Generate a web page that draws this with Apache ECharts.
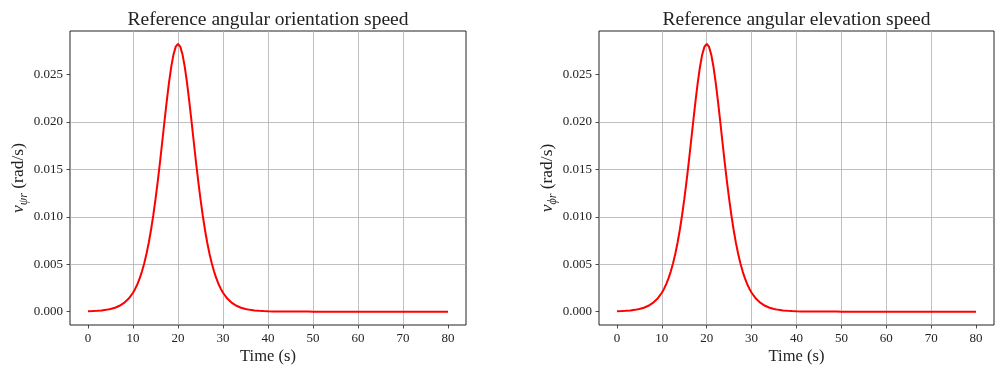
<!DOCTYPE html>
<html>
<head>
<meta charset="utf-8">
<script src="https://cdn.jsdelivr.net/npm/echarts@6/dist/echarts.min.js"></script>
<style>
  html, body { margin: 0; padding: 0; background: #fff; overflow: hidden; }
  #chart { width: 995px; height: 365px; }
</style>
</head>
<body>
<div id="chart"></div>
<script>
// Sample times (s) of the reference speed profiles
const timeSec = [
  0, 1, 2, 3, 4, 5, 6, 7, 8, 9,
  10, 10.5, 11, 11.5, 12, 12.5, 13, 13.5, 14, 14.5,
  15, 15.5, 16, 16.5, 17, 17.5, 18, 18.5, 19, 19.5,
  20, 20.5, 21, 21.5, 22, 22.5, 23, 23.5, 24, 24.5,
  25, 25.5, 26, 26.5, 27, 27.5, 28, 28.5, 29, 29.5,
  30, 31, 32, 33, 34, 35, 36, 37, 38, 39,
  40, 41, 42, 43, 44, 45, 46, 47, 48, 49,
  50, 55, 60, 65, 70, 75, 80
];

// Reference angular orientation speed (rad/s)
const orientSpeed = [
  0.0000379, 0.0000565, 0.0000842, 0.000125, 0.000187, 0.000279, 0.000414, 0.000616, 0.000914, 0.00135,
  0.00199, 0.00242, 0.00292, 0.00353, 0.00425, 0.00510, 0.00610, 0.00727, 0.00861, 0.01014,
  0.01186, 0.01375, 0.01578, 0.01792, 0.02009, 0.02220, 0.02415, 0.02583, 0.02713, 0.02795,
  0.02823, 0.02795, 0.02713, 0.02583, 0.02415, 0.02220, 0.02009, 0.01792, 0.01578, 0.01375,
  0.01186, 0.01014, 0.00861, 0.00727, 0.00610, 0.00510, 0.00425, 0.00353, 0.00292, 0.00242,
  0.00199, 0.00135, 0.000914, 0.000616, 0.000414, 0.000279, 0.000187, 0.000125, 0.0000842, 0.0000565,
  0.0000379, 0.0000254, 0.000017, 0.0000114, 0.0000077, 0.0000051, 0.0000034, 0.0000023, 0.0000015, 0.000001,
  0, 0, 0, 0, 0, 0, 0
];

// Reference angular elevation speed (rad/s)
const elevSpeed = [
  0.0000379, 0.0000565, 0.0000842, 0.000125, 0.000187, 0.000279, 0.000414, 0.000616, 0.000914, 0.00135,
  0.00199, 0.00242, 0.00292, 0.00353, 0.00425, 0.00510, 0.00610, 0.00727, 0.00861, 0.01014,
  0.01186, 0.01375, 0.01578, 0.01792, 0.02009, 0.02220, 0.02415, 0.02583, 0.02713, 0.02795,
  0.02823, 0.02795, 0.02713, 0.02583, 0.02415, 0.02220, 0.02009, 0.01792, 0.01578, 0.01375,
  0.01186, 0.01014, 0.00861, 0.00727, 0.00610, 0.00510, 0.00425, 0.00353, 0.00292, 0.00242,
  0.00199, 0.00135, 0.000914, 0.000616, 0.000414, 0.000279, 0.000187, 0.000125, 0.0000842, 0.0000565,
  0.0000379, 0.0000254, 0.000017, 0.0000114, 0.0000077, 0.0000051, 0.0000034, 0.0000023, 0.0000015, 0.000001,
  0, 0, 0, 0, 0, 0, 0
];

const xTicks = [0, 10, 20, 30, 40, 50, 60, 70, 80];
const yTicks = [0, 0.005, 0.010, 0.015, 0.020, 0.025];

const titles = ['Reference angular orientation speed', 'Reference angular elevation speed'];
const ySubs = ['\u03C8r', '\u03D5r'];

const FONT = 'Liberation Serif';
const INK = '#222222';

const gridBoxes = [
  { left: 70, top: 31, width: 396, height: 294 },
  { left: 599, top: 31, width: 395, height: 294 }
];

function xAxisFor(i) {
  return {
    type: 'value', gridIndex: i, min: -4, max: 84, splitNumber: 9,
    position: 'bottom',
    axisLine: { show: false, onZero: false },
    axisTick: { show: true, inside: false, length: 3.5, customValues: xTicks,
                lineStyle: { color: INK, width: 0.8 } },
    axisLabel: { customValues: xTicks, margin: 7, color: INK,
                 fontFamily: FONT, fontSize: 13 },
    splitLine: { show: true, showMinLine: false, showMaxLine: false,
                 lineStyle: { color: '#b0b0b0', width: 0.8 } },
    name: 'Time (s)', nameLocation: 'middle', nameGap: 23, nameMoveOverlap: false,
    nameTextStyle: { color: INK, fontFamily: FONT, fontSize: 16.5 }
  };
}

function yAxisFor(i) {
  return {
    type: 'value', gridIndex: i, min: -0.00141, max: 0.0296, splitNumber: 6,
    position: 'left',
    axisLine: { show: false, onZero: false },
    axisTick: { show: true, inside: false, length: 3.5, customValues: yTicks,
                lineStyle: { color: INK, width: 0.8 } },
    axisLabel: { customValues: yTicks, margin: 7, color: INK,
                 fontFamily: FONT, fontSize: 13,
                 formatter: v => v.toFixed(3) },
    splitLine: { show: true, showMinLine: false, showMaxLine: false,
                 lineStyle: { color: '#b0b0b0', width: 0.8 } },
    name: '{v|v}{s|' + ySubs[i] + '}{t| (rad/s)}',
    nameLocation: 'middle', nameGap: 36, nameRotate: 90,
    nameTextStyle: {
      color: INK, fontFamily: FONT,
      rich: {
        v: { fontFamily: FONT, fontSize: 17.5, fontStyle: 'italic', color: INK,
             lineHeight: 22, verticalAlign: 'middle' },
        s: { fontFamily: FONT, fontSize: 12, fontStyle: 'italic', color: INK,
             lineHeight: 22, verticalAlign: 'bottom' },
        t: { fontFamily: FONT, fontSize: 17.5, color: INK,
             lineHeight: 22, verticalAlign: 'middle' }
      }
    }
  };
}

function seriesFor(i, values) {
  return {
    type: 'line', xAxisIndex: i, yAxisIndex: i,
    data: timeSec.map((t, k) => [t, values[k]]),
    showSymbol: false, symbol: 'none', smooth: false,
    lineStyle: { color: '#ff0000', width: 2 },
    itemStyle: { color: '#ff0000' },
    clip: true, silent: true, z: 3
  };
}

const option = {
  animation: false,
  backgroundColor: '#ffffff',
  title: titles.map((text, i) => ({
    text,
    left: gridBoxes[i].left + gridBoxes[i].width / 2 - 5,
    top: 5,
    textAlign: 'center',
    textStyle: { fontFamily: FONT, fontSize: 19.5, fontWeight: 'normal', color: INK }
  })),
  grid: gridBoxes.map(b => Object.assign({
    show: true, borderColor: INK, borderWidth: 1, backgroundColor: 'transparent',
    containLabel: false, outerBoundsMode: 'none'
  }, b)),
  xAxis: [xAxisFor(0), xAxisFor(1)],
  yAxis: [yAxisFor(0), yAxisFor(1)],
  series: [seriesFor(0, orientSpeed), seriesFor(1, elevSpeed)]
};

const chart = echarts.init(document.getElementById('chart'), null, { renderer: 'canvas' });
chart.setOption(option);
</script>
</body>
</html>
